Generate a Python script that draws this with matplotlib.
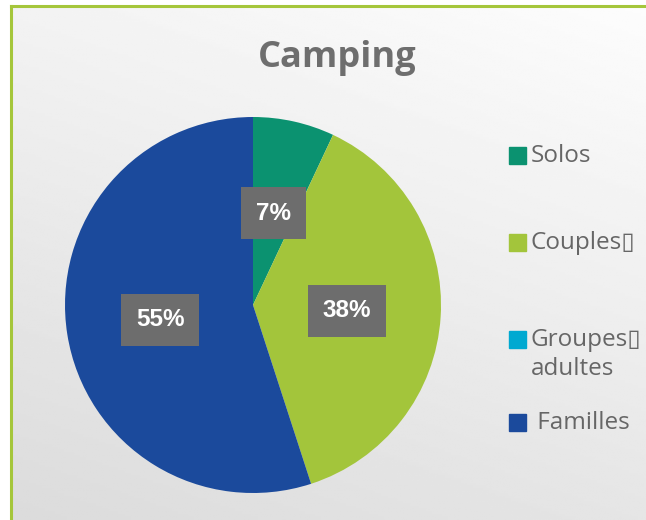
import numpy as np
import matplotlib
matplotlib.use('Agg')
import matplotlib.pyplot as plt
from matplotlib.patches import Rectangle
from matplotlib.lines import Line2D

plt.rcParams['font.family'] = ['Open Sans', 'DejaVu Sans']

TITLE      = 'Camping'
CATEGORIES = ['Solos', 'Couples\u25af', 'Groupes\u25af\nadultes', ' Familles']
SHARES     = [7, 38, 0, 55]
COLORS     = ['#0b9270', '#a3c53b', '#00a9d1', '#1b4a9c']

W, H = 646, 520
fig = plt.figure(figsize=(W / 100, H / 100), dpi=100, facecolor='white')

# background panel with a soft gradient
bg = fig.add_axes([12 / W, 0, 1 - 12 / W, 1 - 7 / H])
yy, xx = np.mgrid[0:1:200j, 0:1:200j]
shade = 0.86 + 0.13 * (1 - yy) * 0.7 + 0.13 * xx * 0.3
bg.imshow(shade, cmap='gray', vmin=0, vmax=1, aspect='auto',
          extent=[0, 1, 0, 1], origin='upper')
bg.set_axis_off()

# green border on top and left
fig.add_artist(Line2D([11 / W, 11 / W], [0, 1 - 6 / H],
                      color='#a5c63b', lw=2.2))
fig.add_artist(Line2D([11 / W, 1], [1 - 6 / H, 1 - 6 / H],
                      color='#a5c63b', lw=2.2))

fig.text(337 / W, 1 - 58 / H, TITLE, ha='center', va='center',
         fontsize=26, fontweight='bold', color='#6e6e6e')

cx, cy, r = 253, 305, 188
ax = fig.add_axes([(cx - r) / W, (H - cy - r) / H, 2 * r / W, 2 * r / H])


def fmt(p):
    return f'{p:.0f}%' if p >= 0.5 else ''


wedges, texts, autotexts = ax.pie(
    SHARES, colors=COLORS, startangle=90, counterclock=False,
    autopct=fmt, pctdistance=0.5,
    wedgeprops=dict(linewidth=0))
ax.set_xlim(-1, 1)
ax.set_ylim(-1, 1)

for t in autotexts:
    t.set_color('white')
    t.set_fontsize(17.5)
    t.set_fontweight('bold')
    t.set_family(['Liberation Sans', 'DejaVu Sans'])
    t.set_bbox(dict(boxstyle='square,pad=0.6', fc='#6d6d6d',
                    ec='none'))

# legend drawn by hand to keep Excel-like spacing
legend_y = [156, 243, 340, 423]
for name, col, ly in zip(CATEGORIES, COLORS, legend_y):
    fig.add_artist(Rectangle((509 / W, 1 - (ly + 8) / H), 17 / W, 17 / H,
                             color=col, transform=fig.transFigure))
    top = ly - 12 if '\n' in name else ly
    fig.text(531 / W, 1 - top / H, name, ha='left',
             va='center' if '\n' not in name else 'top',
             fontsize=17.5, color='#666666', linespacing=1.3)

fig.savefig('out.png', dpi=100)
